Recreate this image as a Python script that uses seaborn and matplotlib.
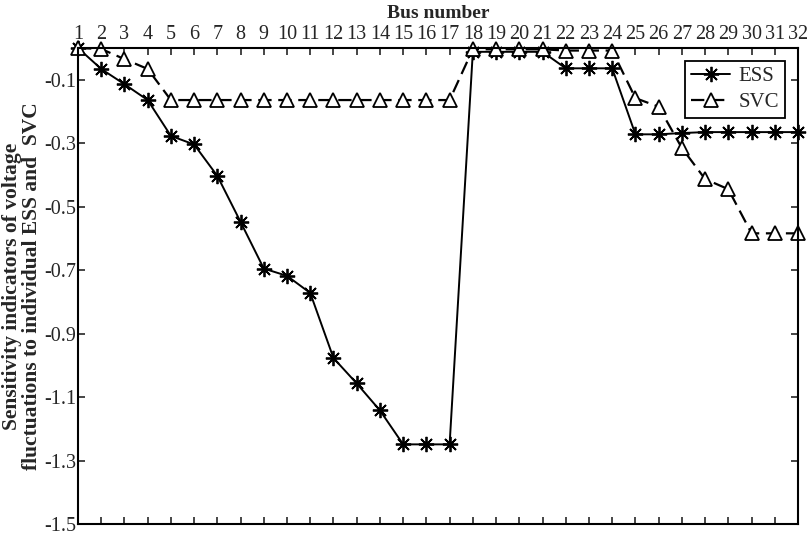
import matplotlib
matplotlib.use("Agg")
import matplotlib.pyplot as plt
import seaborn as sns
import numpy as np

bus = list(range(1, 33))
ess = [0.0, -0.066, -0.114, -0.164, -0.277, -0.304, -0.403, -0.548, -0.695, -0.718,
       -0.772, -0.977, -1.057, -1.142, -1.249, -1.249, -1.249, -0.012, -0.012, -0.012,
       -0.012, -0.064, -0.064, -0.064, -0.272, -0.272, -0.268, -0.265, -0.265, -0.265,
       -0.265, -0.265]
svc = [0.0, -0.003, -0.035, -0.066, -0.164, -0.164, -0.164, -0.164, -0.164, -0.164,
       -0.164, -0.164, -0.164, -0.164, -0.164, -0.164, -0.164, -0.004, -0.004, -0.004,
       -0.004, -0.008, -0.008, -0.008, -0.158, -0.185, -0.315, -0.413, -0.445, -0.584,
       -0.584, -0.584]
yticks = [-0.1, -0.3, -0.5, -0.7, -0.9, -1.1, -1.3, -1.5]
ytick_labels = ["-0.1", "-0.3", "-0.5", "-0.7", "-0.9", "-1.1", "-1.3", "-1.5"]

sns.set_style("ticks")
plt.rcParams['font.family'] = ['Liberation Serif', 'DejaVu Serif']

fig = plt.figure(figsize=(8.09, 5.40), dpi=100)
ax = fig.add_axes([0.0964, 0.0296, 0.89, 0.8815])

sns.lineplot(x=bus, y=ess, ax=ax, color='black', linewidth=1.4, marker=(8, 2, 0),
             markersize=11, markeredgecolor='black', markeredgewidth=1.3,
             label='ESS', clip_on=False)
sns.lineplot(x=bus, y=svc, ax=ax, color='black', linewidth=1.6, linestyle=(0, (6, 3)),
             marker='^', markersize=10, markerfacecolor='white',
             markeredgecolor='black', markeredgewidth=1.3,
             label='SVC', clip_on=False)

ax.set_xlim(1, 32)
ax.set_ylim(-1.5, 0)
ax.set_xticks(bus)
ax.set_xticklabels([str(b) for b in bus])
ax.set_yticks(yticks)
ax.set_yticklabels(ytick_labels)

ax.tick_params(axis='x', which='both', top=True, bottom=True, labeltop=True,
               labelbottom=False, direction='in', length=5, width=1.2,
               labelsize=14.5, pad=3)
ax.tick_params(axis='y', left=True, right=True, direction='in', length=5,
               width=1.2, labelsize=14.5, pad=1)
for s in ax.spines.values():
    s.set_visible(True)
    s.set_linewidth(1.5)
    s.set_color('black')

ax.xaxis.set_label_position('top')
ax.set_xlabel('Bus number', fontsize=14, fontweight='bold', labelpad=5)
ax.set_ylabel('Sensitivity indicators of voltage\nfluctuations to individual ESS and  SVC',
              fontsize=15.5, fontweight='bold', labelpad=2, linespacing=0.95)

leg = ax.legend(loc='upper right', fontsize=15, frameon=True, fancybox=False,
                edgecolor='black', handlelength=1.9, borderpad=0.3,
                labelspacing=0.3, handletextpad=0.4, borderaxespad=0.6)
leg.get_frame().set_linewidth(1.3)
leg.get_frame().set_alpha(1)

fig.savefig('out.png', dpi=100)
